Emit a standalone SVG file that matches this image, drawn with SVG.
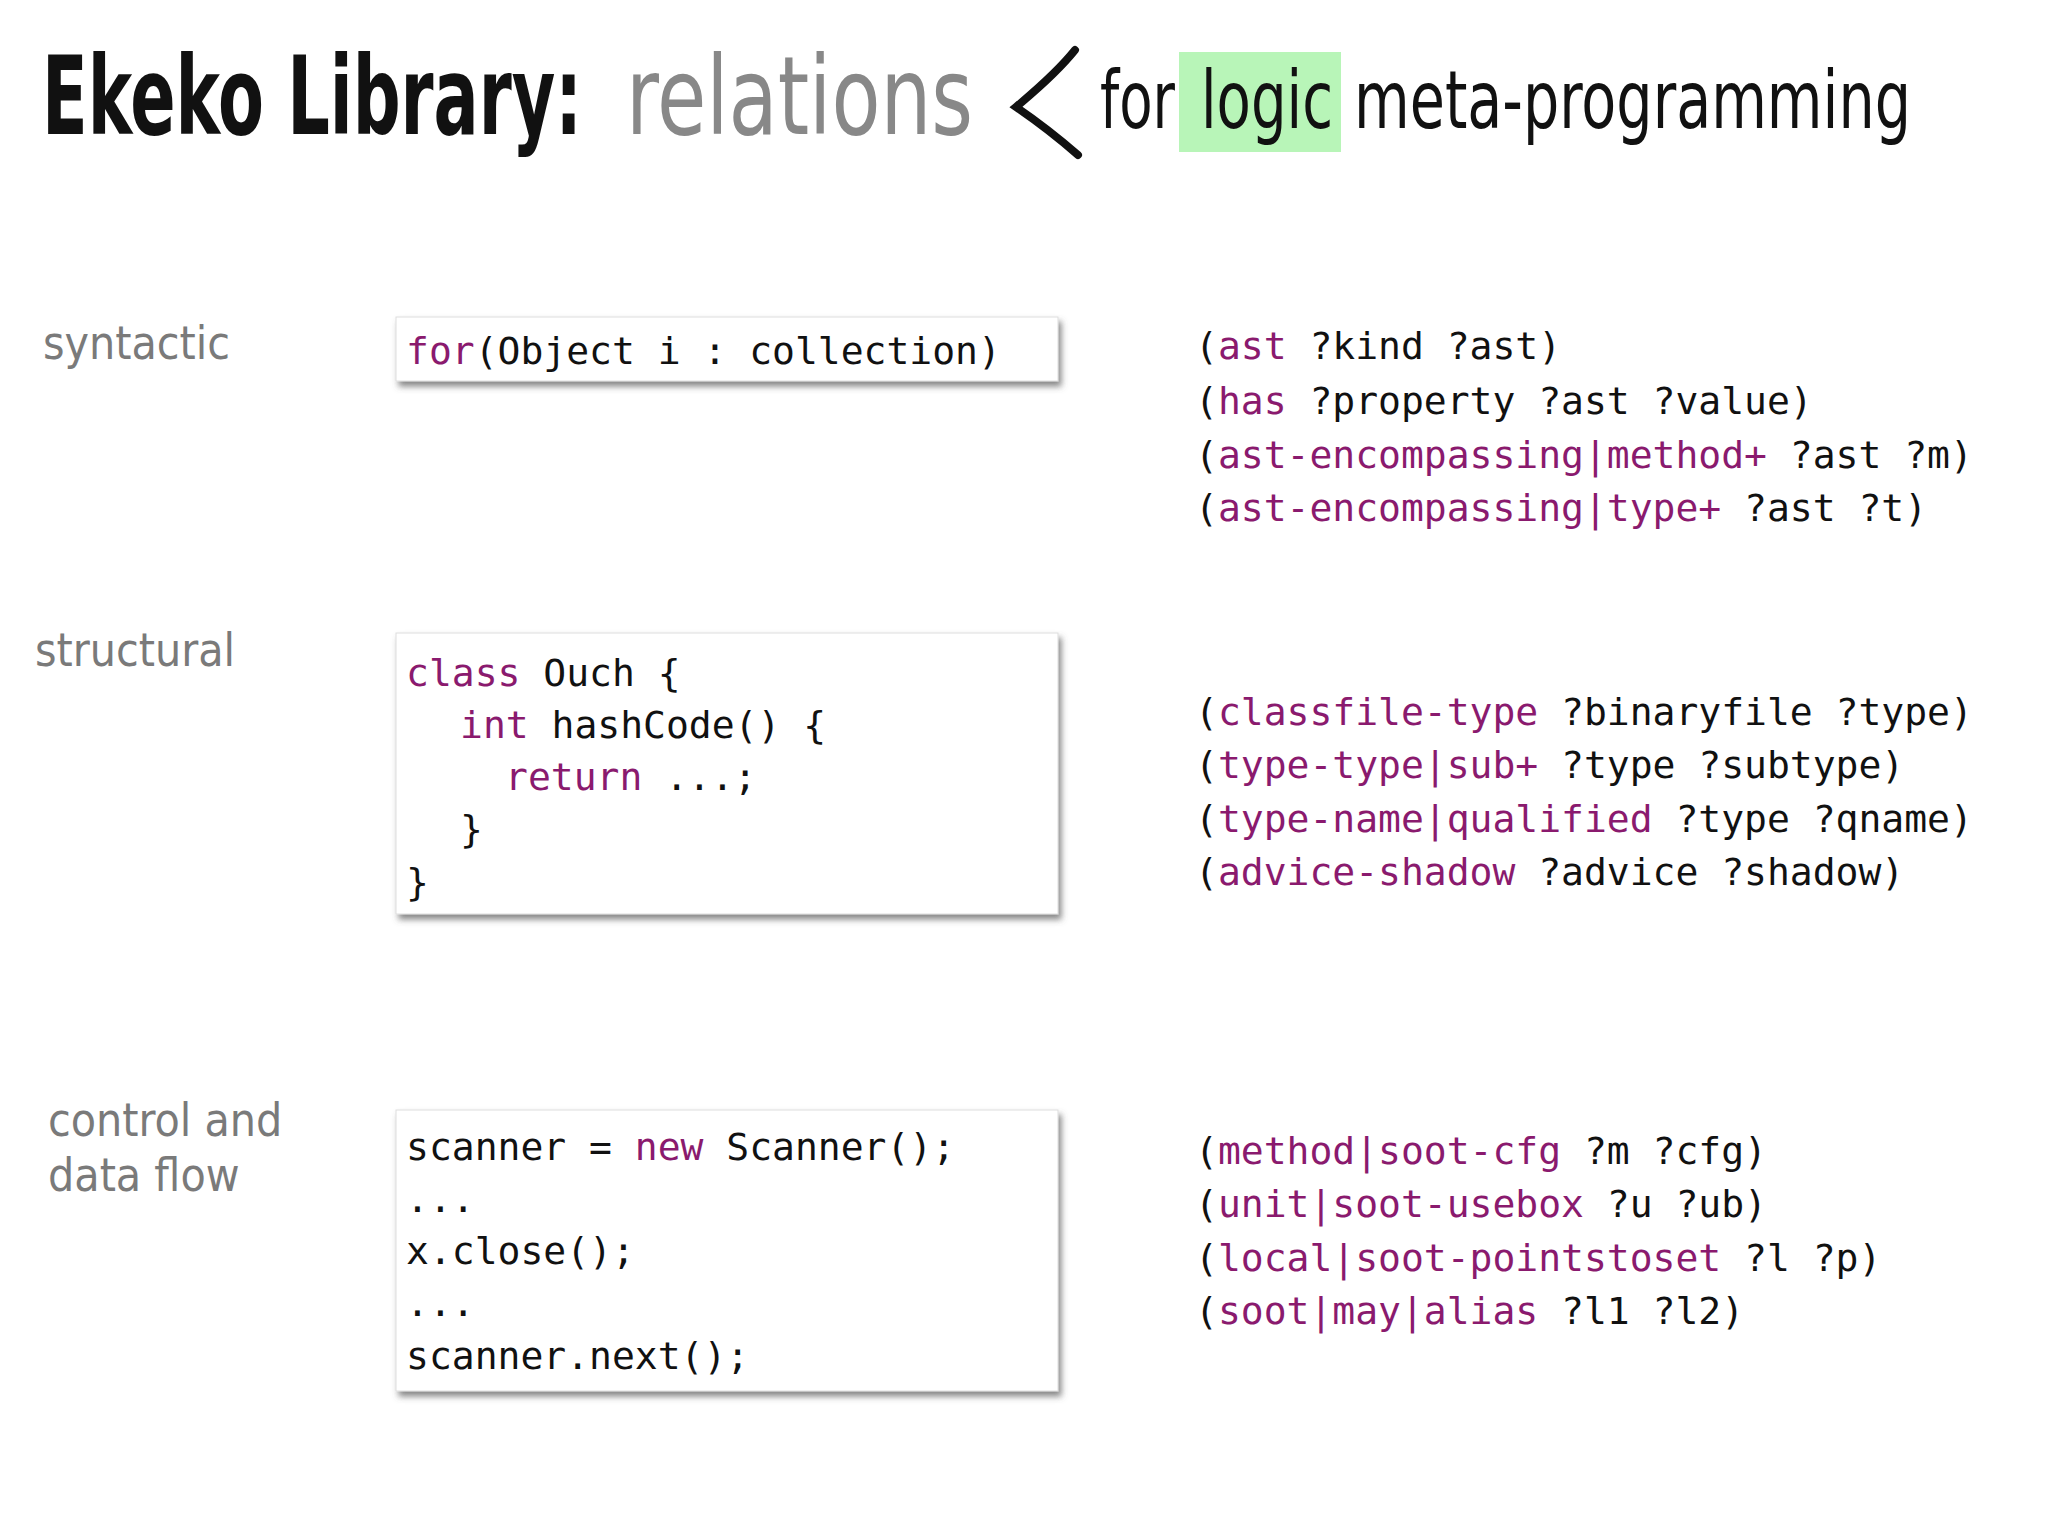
<svg xmlns="http://www.w3.org/2000/svg" width="2048" height="1536" viewBox="0 0 2048 1536">
<defs>
<style>
.t{font-family:"DejaVu Sans Condensed","DejaVu Sans",sans-serif;font-stretch:condensed}
.lab{font-family:"DejaVu Sans Condensed","DejaVu Sans",sans-serif;font-stretch:condensed;font-size:46px;fill:#7a7a7a}
.code{font-family:"DejaVu Sans Mono","Liberation Mono",monospace;font-size:38px;fill:#111}
.k{fill:#8a1a6e}
.box{fill:#fff;stroke:#ddd;stroke-width:1}
</style>
<filter id="sh" x="-5%" y="-10%" width="115%" height="130%"><feDropShadow dx="3" dy="5" stdDeviation="3" flood-color="#555" flood-opacity="0.7"/></filter>
</defs>
<rect width="2048" height="1536" fill="#fff"/>
<g id="title">
<text class="t" x="42" y="134" font-size="108" font-weight="bold" fill="#111" textLength="540" lengthAdjust="spacingAndGlyphs">Ekeko Library:</text>
<text class="t" x="626" y="134" font-size="108" fill="#888" textLength="347" lengthAdjust="spacingAndGlyphs">relations</text>
<path d="M1075,50 C1055,75 1030,95 1016,107 C1035,120 1055,135 1078,155" fill="none" stroke="#111" stroke-width="8" stroke-linecap="round"/>
<rect x="1179" y="52" width="162" height="100" fill="#b8f5b8"/>
<text class="t" x="1100" y="128" font-size="80" fill="#111" textLength="75" lengthAdjust="spacingAndGlyphs">for</text>
<text class="t" x="1201" y="128" font-size="80" fill="#111" textLength="132" lengthAdjust="spacingAndGlyphs">logic</text>
<text class="t" x="1354" y="128" font-size="80" fill="#111" textLength="557" lengthAdjust="spacingAndGlyphs">meta-programming</text>
</g>
<g id="labels">
<text class="lab" x="43" y="359">syntactic</text>
<text class="lab" x="35" y="666">structural</text>
<text class="lab" x="48" y="1136">control and</text>
<text class="lab" x="48" y="1191">data flow</text>
</g>
<g id="box1"><rect class="box" x="396" y="317" width="662" height="64" filter="url(#sh)"/>
<text class="code" x="406" y="364"><tspan class="k">for</tspan>(Object i : collection)</text></g>
<g id="box2"><rect class="box" x="396" y="633" width="662" height="281" filter="url(#sh)"/>
<text class="code" x="406" y="686"><tspan class="k">class</tspan> Ouch {</text>
<text class="code" x="460" y="738"><tspan class="k">int</tspan> hashCode() {</text>
<text class="code" x="505" y="790"><tspan class="k">return</tspan> ...;</text>
<text class="code" x="460" y="842">}</text>
<text class="code" x="406" y="895">}</text></g>
<g id="box3"><rect class="box" x="396" y="1110" width="662" height="281" filter="url(#sh)"/>
<text class="code" x="406" y="1160">scanner = <tspan class="k">new</tspan> Scanner();</text>
<text class="code" x="406" y="1212">...</text>
<text class="code" x="406" y="1264">x.close();</text>
<text class="code" x="406" y="1316">...</text>
<text class="code" x="406" y="1369">scanner.next();</text></g>
<g id="rel1">
<text class="code" x="1195" y="359">(<tspan class="k">ast</tspan> ?kind ?ast)</text>
<text class="code" x="1195" y="414">(<tspan class="k">has</tspan> ?property ?ast ?value)</text>
<text class="code" x="1195" y="468">(<tspan class="k">ast-encompassing|method+</tspan> ?ast ?m)</text>
<text class="code" x="1195" y="521">(<tspan class="k">ast-encompassing|type+</tspan> ?ast ?t)</text>
</g>
<g id="rel2">
<text class="code" x="1195" y="725">(<tspan class="k">classfile-type</tspan> ?binaryfile ?type)</text>
<text class="code" x="1195" y="778">(<tspan class="k">type-type|sub+</tspan> ?type ?subtype)</text>
<text class="code" x="1195" y="832">(<tspan class="k">type-name|qualified</tspan> ?type ?qname)</text>
<text class="code" x="1195" y="885">(<tspan class="k">advice-shadow</tspan> ?advice ?shadow)</text>
</g>
<g id="rel3">
<text class="code" x="1195" y="1164">(<tspan class="k">method|soot-cfg</tspan> ?m ?cfg)</text>
<text class="code" x="1195" y="1217">(<tspan class="k">unit|soot-usebox</tspan> ?u ?ub)</text>
<text class="code" x="1195" y="1271">(<tspan class="k">local|soot-pointstoset</tspan> ?l ?p)</text>
<text class="code" x="1195" y="1324">(<tspan class="k">soot|may|alias</tspan> ?l1 ?l2)</text>
</g>
<g id="connectors"/>
</svg>
